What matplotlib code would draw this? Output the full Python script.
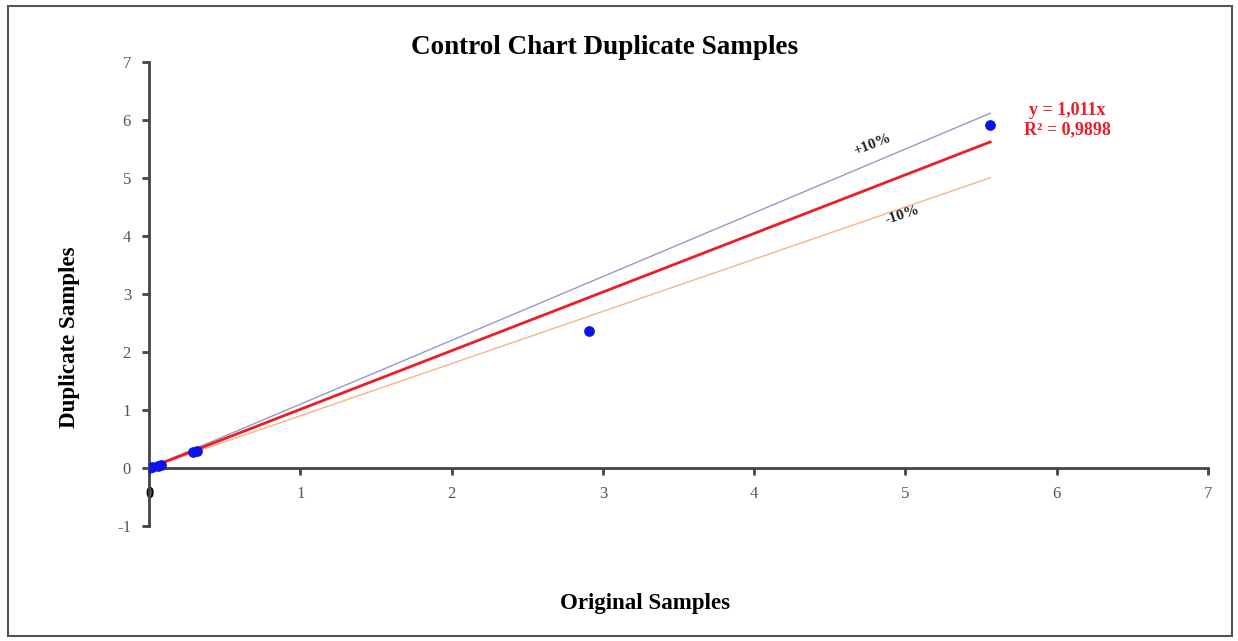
import numpy as np
import matplotlib.pyplot as plt
from matplotlib.patches import Rectangle

plt.rcParams['font.family'] = ['Liberation Serif', 'DejaVu Serif']
plt.rcParams['axes.unicode_minus'] = False

# duplicate sample pairs
orig = [0.0, 0.02, 0.06, 0.08, 0.29, 0.32, 2.91, 5.56]
dup = [0.0, 0.01, 0.04, 0.05, 0.28, 0.30, 2.37, 5.92]
slope = 1.011
r2 = 0.9898
x_end = 5.56
xticks = [0, 1, 2, 3, 4, 5, 6, 7]
yticks = [-1, 0, 1, 2, 3, 4, 5, 6, 7]

fig = plt.figure(figsize=[12.38, 6.41], dpi=100)
fig.patches.append(Rectangle((8/1238, 5/641), 1224/1238, 630/641, transform=fig.transFigure,
                             fill=False, edgecolor='#555555', lw=1.5))
ax = fig.add_axes([149/1238, 1-526/641, 1059/1238, 464/641])
ax.set(xlim=[0, 7], ylim=[-1, 7])

xl = np.array([0, x_end])
ax.plot(xl, 1.1*xl, color='#9a96c8', lw=1)
ax.plot(xl, 0.9*xl, color='#f7b487', lw=1)
ax.plot(xl, slope*xl, color='#ee1c25', lw=2)
ax.scatter(orig, dup, s=45, color='#0a14e6', zorder=5)

ax.text(4.78, 5.57, '+10%', rotation=21, ha='center', va='center', fontsize=11, fontweight='bold', color='#222222')
ax.text(4.98, 4.36, '-10%', rotation=18, ha='center', va='center', fontsize=11, fontweight='bold', color='#222222')
ax.text(6.07, 6.17, 'y = 1,011x', ha='center', va='center', fontsize=13, fontweight='bold', color='#ee1c25')
ax.text(6.07, 5.83, 'R² = 0,9898', ha='center', va='center', fontsize=13, fontweight='bold', color='#ee1c25')

for s in ['top', 'right']:
    ax.spines[s].set_visible(False)
ax.spines['left'].set_position(('data', 0))
ax.spines['bottom'].set_position(('data', 0))
for s in ['left', 'bottom']:
    ax.spines[s].set_color('#444444')
    ax.spines[s].set_linewidth(2)
ax.set_xticks(xticks)
ax.set_yticks(yticks)
ax.tick_params(direction='out', length=5, width=2, color='#444444', labelsize=12, labelcolor='#555555', pad=8)
ax.get_xticklabels()[0].set_color('black')
ax.get_xticklabels()[0].set_fontweight('bold')

fig.text(605/1238, 1-47/641, 'Control Chart Duplicate Samples', ha='center', va='center', fontsize=19.5, fontweight='bold')
fig.text(645/1238, 1-603/641, 'Original Samples', ha='center', va='center', fontsize=16.5, fontweight='bold')
fig.text(70/1238, 1-337/641, 'Duplicate Samples', ha='center', va='center', rotation=90, fontsize=16.5, fontweight='bold')

fig.savefig('out.png', dpi=100)
